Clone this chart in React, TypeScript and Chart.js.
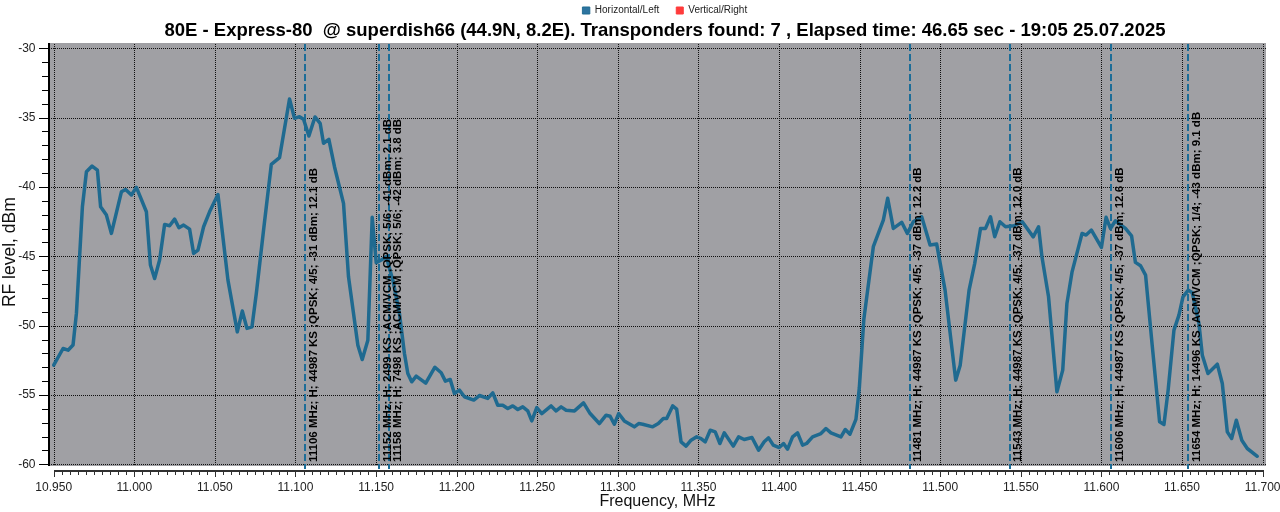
import React, { useEffect, useRef } from 'react';
import { Chart, registerables } from 'chart.js';

Chart.register(...registerables);

// ---------- data ----------
const FREQ_MHZ = [
  10.95, 10.9558, 10.9589, 10.962, 10.9641, 10.9678, 10.9703, 10.9738, 10.9771, 10.9791,
  10.9827, 10.9858, 10.992, 10.9946, 10.9982, 11.0013, 11.0075, 11.01, 11.0126, 11.0157,
  11.0188, 11.0219, 11.025, 11.0277, 11.0306, 11.0343, 11.0368, 11.0395, 11.043, 11.0467,
  11.0519, 11.0581, 11.0639, 11.067, 11.0699, 11.073, 11.0757, 11.0802, 11.085, 11.0901,
  11.0963, 11.0994, 11.1025, 11.105, 11.1083, 11.1121, 11.1153, 11.1174, 11.1207, 11.1242,
  11.1298, 11.1329, 11.1387, 11.1414, 11.1449, 11.1476, 11.1501, 11.1532, 11.1563, 11.1604,
  11.1645, 11.1676, 11.1697, 11.1721, 11.1749, 11.1808, 11.1865, 11.1904, 11.193, 11.196,
  11.1986, 11.2017, 11.2048, 11.2106, 11.2141, 11.2193, 11.2224, 11.2255, 11.2286, 11.2317,
  11.2348, 11.2379, 11.241, 11.2441, 11.2466, 11.2497, 11.2528, 11.2586, 11.2617, 11.2648,
  11.2679, 11.2731, 11.2787, 11.2828, 11.2885, 11.2927, 11.2952, 11.2978, 11.3005, 11.304,
  11.3102, 11.3129, 11.3154, 11.3216, 11.3251, 11.3282, 11.3303, 11.334, 11.3365, 11.3392,
  11.3423, 11.3454, 11.3489, 11.3516, 11.3542, 11.3573, 11.3604, 11.3633, 11.366, 11.3716,
  11.3749, 11.3784, 11.3832, 11.3873, 11.3908, 11.3935, 11.3964, 11.4001, 11.4028, 11.4053,
  11.4084, 11.4115, 11.4146, 11.4171, 11.4208, 11.426, 11.4291, 11.4322, 11.4384, 11.4411,
  11.444, 11.4477, 11.4498, 11.4526, 11.4585, 11.4647, 11.4674, 11.4709, 11.4761, 11.4796,
  11.4833, 11.4885, 11.4937, 11.4978, 11.503, 11.5096, 11.5124, 11.5179, 11.5214, 11.525,
  11.5281, 11.5312, 11.5338, 11.537, 11.5405, 11.5457, 11.5509, 11.5577, 11.561, 11.5631,
  11.5672, 11.5724, 11.576, 11.5786, 11.5818, 11.588, 11.5905, 11.5938, 11.6, 11.6029,
  11.6056, 11.6087, 11.6149, 11.6187, 11.6211, 11.6243, 11.6274, 11.6315, 11.6361, 11.6388,
  11.6414, 11.645, 11.6481, 11.6506, 11.6539, 11.6564, 11.6605, 11.6626, 11.6661, 11.6719,
  11.675, 11.6781, 11.6808, 11.6837, 11.6871, 11.6905, 11.6967,
];

const LEVEL_H_DBM = [
  -52.85, -51.65, -51.77, -51.4, -49.1, -41.43, -38.9, -38.49, -38.78, -41.43,
  -42.03, -43.35, -40.35, -40.18, -40.58, -40.03, -41.79, -45.63, -46.6, -45.27,
  -42.7, -42.8, -42.32, -42.94, -42.75, -43.04, -44.79, -44.55, -42.87, -41.79,
  -40.54, -46.72, -50.45, -48.95, -50.2, -50.09, -47.68, -43.1, -38.37, -37.89,
  -33.66, -35.05, -34.93, -35.12, -36.33, -34.95, -35.41, -36.85, -36.57, -38.54,
  -41.18, -46.48, -51.41, -52.44, -51.05, -42.19, -45.47, -45.27, -45.03, -46.72,
  -49.12, -52.01, -53.45, -54.05, -53.64, -54.15, -53.0, -53.4, -54.0, -53.88,
  -54.89, -54.65, -55.13, -55.37, -55.04, -55.25, -54.85, -55.74, -55.74, -55.98,
  -55.79, -56.05, -55.86, -56.15, -56.87, -55.91, -56.34, -55.79, -56.15, -55.86,
  -56.1, -56.15, -55.57, -56.34, -57.06, -56.46, -56.53, -57.11, -56.34, -56.87,
  -57.3, -57.06, -57.11, -57.3, -57.06, -56.7, -56.7, -55.79, -56.02, -58.38,
  -58.69, -58.26, -58.02, -58.14, -58.38, -57.54, -57.66, -58.5, -57.73, -58.69,
  -58.02, -58.21, -58.07, -58.98, -58.38, -58.09, -58.62, -58.79, -58.5, -58.91,
  -58.02, -57.73, -58.62, -58.5, -58.02, -57.78, -57.42, -57.73, -58.02, -57.49,
  -57.83, -56.76, -54.5, -49.55, -44.31, -42.39, -40.82, -42.99, -42.55, -43.35,
  -42.51, -42.15, -44.19, -44.12, -47.44, -53.93, -52.85, -47.44, -45.51, -42.99,
  -42.99, -42.15, -43.59, -42.51, -42.87, -42.8, -42.51, -43.6, -42.87, -45.03,
  -47.92, -54.77, -53.21, -48.4, -46.12, -43.35, -43.47, -43.11, -44.36, -42.19,
  -42.99, -42.44, -42.99, -43.52, -45.44, -45.68, -46.36, -51.41, -56.94, -57.13,
  -54.65, -50.32, -49.24, -47.92, -47.44, -47.63, -49.84, -52.13, -53.45, -52.78,
  -54.17, -57.66, -58.14, -56.82, -58.26, -58.86, -59.42,
];

const LEVEL_V_DBM: number[] = [];

const X_TICKS = [10.95, 11.0, 11.05, 11.1, 11.15, 11.2, 11.25, 11.3, 11.35, 11.4, 11.45, 11.5, 11.55, 11.6, 11.65, 11.7];
const Y_TICKS = [-30, -35, -40, -45, -50, -55, -60];

const TP_FREQ_MHZ = [11.106, 11.152, 11.158, 11.481, 11.543, 11.606, 11.654];
const TP_LABELS = [
  '11106 MHz; H; 44987 KS ;QPSK; 4/5; -31 dBm; 12.1 dB',
  '11152 MHz; H; 2499 KS ;ACM/VCM ;QPSK; 5/6; -41 dBm; 2.1 dB',
  '11158 MHz; H; 7498 KS ;ACM/VCM ;QPSK; 5/6; -42 dBm; 3.8 dB',
  '11481 MHz; H; 44987 KS ;QPSK; 4/5; -37 dBm; 12.2 dB',
  '11543 MHz; H; 44987 KS ;QPSK; 4/5; -37 dBm; 12.0 dB',
  '11606 MHz; H; 44987 KS ;QPSK; 4/5; -37 dBm; 12.6 dB',
  '11654 MHz; H; 14496 KS ;ACM/VCM ;QPSK; 1/4; -43 dBm; 9.1 dB',
];

const TITLE = '80E - Express-80  @ superdish66 (44.9N, 8.2E). Transponders found: 7 , Elapsed time: 46.65 sec - 19:05 25.07.2025';

// ---------- style ----------
const FONT = 'Liberation Sans';
const LINE_H = '#1f6a90';
const MARKER = '#1c6d98';
const LINE_V = '#ff3b3b';
const PLOT_BG = '#a0a0a4';
const GRID_DOT = '#101010';
const X_MIN = 10.94708;
const X_MAX = 11.70211;
const Y_MIN = -60.483;
const Y_MAX = -29.618;
const X_MINOR = 0.005;
const Y_MINOR = 1;
const HEADER_CENTER_X = 665;
const LEGEND_ITEM_TOP = 5.5;

const framePlugin = {
  id: 'frame',
  beforeDraw(chart: any) {
    const { ctx, chartArea: a, scales } = chart;
    const xs = scales.x;
    const ys = scales.y;
    const grayTop = a.top;
    const grayBottom = a.bottom - 5;
    ctx.save();
    ctx.fillStyle = PLOT_BG;
    ctx.fillRect(a.left + 1, grayTop, a.right - a.left - 1, grayBottom - grayTop);
    // dotted grid lines
    ctx.fillStyle = GRID_DOT;
    X_TICKS.forEach((v) => {
      const x = Math.round(xs.getPixelForValue(v));
      for (let y = grayTop + 1; y < grayBottom; y += 2) ctx.fillRect(x, y, 1, 1);
    });
    Y_TICKS.forEach((v) => {
      const y = Math.round(ys.getPixelForValue(v));
      for (let x = a.left + 2; x < a.right; x += 2) ctx.fillRect(x, y, 1, 1);
    });
    ctx.restore();
  },
  beforeDatasetsDraw(chart: any) {
    const { ctx, chartArea: a, scales } = chart;
    const xs = scales.x;
    const ys = scales.y;
    const grayBottom = a.bottom - 5;
    ctx.save();
    // axis lines
    ctx.fillStyle = '#000000';
    ctx.fillRect(a.left - 1, a.top, 2, grayBottom - a.top);
    const x0 = Math.round(xs.getPixelForValue(X_TICKS[0]));
    const x1 = Math.round(xs.getPixelForValue(X_TICKS[X_TICKS.length - 1]));
    ctx.fillStyle = '#303030';
    ctx.fillRect(x0, a.bottom - 1, x1 - x0 + 1, 2);
    // y ticks
    ctx.fillStyle = '#000000';
    for (let v = Y_TICKS[Y_TICKS.length - 1]; v <= Y_TICKS[0] + 1e-9; v += Y_MINOR) {
      const y = Math.round(ys.getPixelForValue(v));
      const major = Y_TICKS.some((t) => Math.abs(t - v) < 1e-6);
      const len = major ? 9 : 6;
      ctx.fillRect(a.left - 1 - len, y, len, 1);
    }
    // x ticks
    ctx.fillStyle = '#303030';
    const n = Math.round((X_TICKS[X_TICKS.length - 1] - X_TICKS[0]) / X_MINOR);
    for (let i = 0; i <= n; i++) {
      const v = X_TICKS[0] + i * X_MINOR;
      const x = Math.round(xs.getPixelForValue(v));
      const major = X_TICKS.some((t) => Math.abs(t - v) < 1e-6);
      const len = major ? 5 : 3;
      ctx.fillRect(x, a.bottom + 1, 1, len);
    }
    // transponder markers
    ctx.strokeStyle = MARKER;
    ctx.lineWidth = 2;
    ctx.setLineDash([7, 3]);
    TP_FREQ_MHZ.forEach((f) => {
      const x = Math.round(xs.getPixelForValue(f));
      ctx.beginPath();
      ctx.moveTo(x, a.top + 1);
      ctx.lineTo(x, a.bottom - 2);
      ctx.stroke();
    });
    ctx.restore();
  },
  afterDatasetsDraw(chart: any) {
    const { ctx, chartArea: a, scales } = chart;
    const xs = scales.x;
    ctx.save();
    ctx.fillStyle = '#000000';
    ctx.font = `bold 11.5px "${FONT}"`;
    ctx.textAlign = 'left';
    ctx.textBaseline = 'middle';
    TP_FREQ_MHZ.forEach((f, i) => {
      const x = xs.getPixelForValue(f) + 8.5;
      ctx.save();
      ctx.translate(x, a.bottom - 9);
      ctx.rotate(-Math.PI / 2);
      ctx.fillText(TP_LABELS[i], 0, 0);
      ctx.restore();
    });
    ctx.restore();
  },
};

const shiftPlugin = {
  id: 'shiftHeader',
  afterLayout(chart: any) {
    const lg = chart.legend;
    if (lg) {
      const dx = HEADER_CENTER_X - (lg.left + lg.right) / 2;
      lg.left += dx;
      lg.right += dx;
      const dy = LEGEND_ITEM_TOP - (lg.top + lg.options.labels.padding);
      lg.top += dy;
      lg.bottom = lg.top + 60;
    }
    const tb = chart.titleBlock;
    if (tb) {
      const dx = HEADER_CENTER_X - (tb.left + tb.right) / 2;
      tb.left += dx;
      tb.right += dx;
    }
  },
};

export default function App() {
  const ref = useRef<HTMLCanvasElement>(null);

  useEffect(() => {
    if (!ref.current) return;
    const chart = new Chart(ref.current, {
      type: 'line',
      data: {
        datasets: [
          {
            label: 'Horizontal/Left',
            data: FREQ_MHZ.map((f, i) => ({ x: f, y: LEVEL_H_DBM[i] })),
            borderColor: LINE_H,
            backgroundColor: '#2d74a0',
            borderWidth: 3.5,
            pointRadius: 0,
            tension: 0,
            borderJoinStyle: 'round',
            borderCapStyle: 'round',
          },
          {
            label: 'Vertical/Right',
            data: LEVEL_V_DBM.map((y, i) => ({ x: FREQ_MHZ[i], y })),
            borderColor: LINE_V,
            backgroundColor: LINE_V,
            borderWidth: 3.5,
            pointRadius: 0,
          },
        ],
      },
      options: {
        animation: false,
        responsive: true,
        maintainAspectRatio: false,
        events: [],
        layout: { padding: { left: 0, right: 14, top: 0, bottom: 0 } },
        plugins: {
          legend: {
            position: 'top',
            weight: 3000,
            maxHeight: 14,
            labels: {
              boxWidth: 7,
              boxHeight: 7,
              padding: 17,
              color: '#222222',
              font: { family: FONT, size: 10 },
              generateLabels: (c: any) =>
                Chart.defaults.plugins.legend.labels.generateLabels(c).map((l: any) => ({
                  ...l,
                  lineWidth: 1,
                })),
            },
          } as any,
          title: {
            display: true,
            text: TITLE,
            color: '#000000',
            font: { family: FONT, size: 18.5, weight: 'bold' },
            padding: { top: 5.9, bottom: 0.9 },
          },
          tooltip: { enabled: false },
        },
        scales: {
          x: {
            type: 'linear',
            min: X_MIN,
            max: X_MAX,
            afterBuildTicks: (s: any) => {
              s.ticks = X_TICKS.map((v) => ({ value: v }));
            },
            afterFit: (s: any) => {
              s.height = 41;
              s.paddingLeft = 0;
              s.paddingRight = 0;
            },
            ticks: {
              autoSkip: false,
              maxRotation: 0,
              padding: 9,
              color: '#222222',
              font: { family: FONT, size: 12 },
              callback: (v: any) => Number(v).toFixed(3),
            },
            grid: { display: false, drawTicks: false },
            border: { display: false },
            title: {
              display: true,
              text: 'Frequency, MHz',
              color: '#111111',
              font: { family: FONT, size: 16 },
              padding: { top: 0, bottom: 0.4 },
            },
          },
          y: {
            type: 'linear',
            min: Y_MIN,
            max: Y_MAX,
            afterBuildTicks: (s: any) => {
              s.ticks = Y_TICKS.map((v) => ({ value: v }));
            },
            afterFit: (s: any) => {
              s.width = 49;
              s.paddingTop = 0;
              s.paddingBottom = 0;
            },
            ticks: {
              autoSkip: false,
              padding: 13.5,
              color: '#222222',
              font: { family: FONT, size: 12 },
              callback: (v: any) => String(Math.round(Number(v))),
            },
            grid: { display: false, drawTicks: false },
            border: { display: false },
            title: {
              display: true,
              text: '  RF level, dBm',
              color: '#111111',
              font: { family: FONT, size: 17.5 },
              padding: { top: 0, bottom: 0 },
            },
          },
        },
      } as any,
      plugins: [framePlugin, shiftPlugin],
    });
    return () => chart.destroy();
  }, []);

  return (
    <div style={{ position: 'absolute', left: 0, top: 0, width: 1280, height: 512 }}>
      <canvas ref={ref} />
    </div>
  );
}
